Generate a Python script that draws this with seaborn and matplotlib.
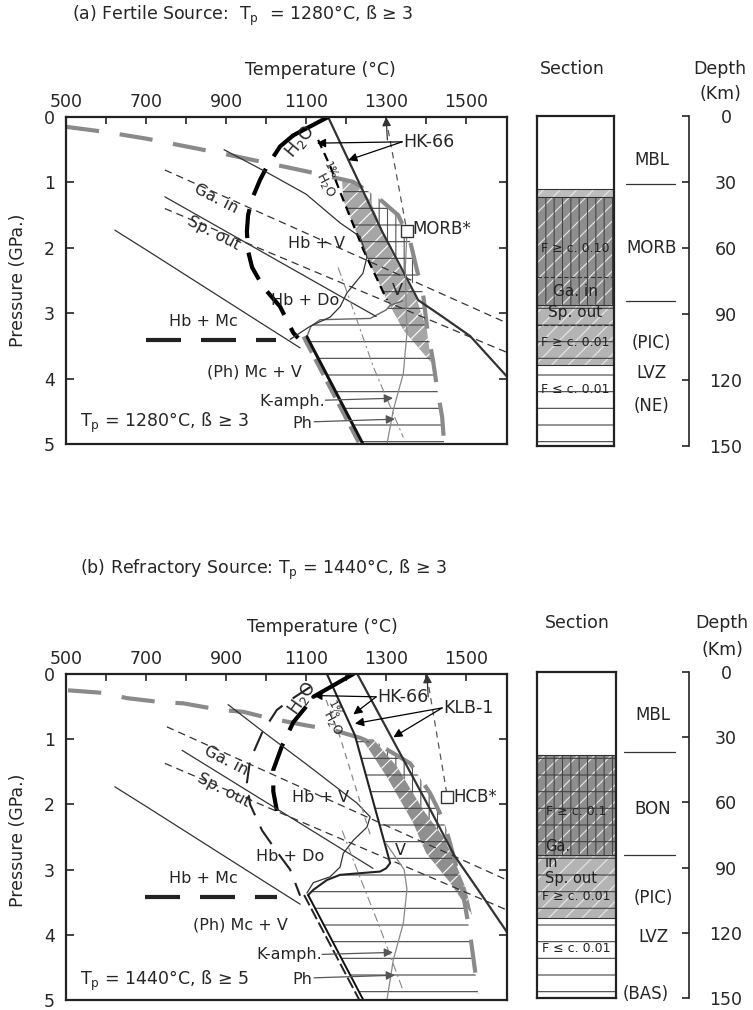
import matplotlib
matplotlib.use("Agg")
import matplotlib.pyplot as plt
import seaborn as sns

# ---------------- panel (a): fertile source ----------------
a_grey_T = [500, 600, 700, 800, 900, 1000, 1100, 1217, 1277, 1330, 1360, 1377, 1392, 1402, 1417, 1427, 1440, 1445]
a_grey_P = [0.15, 0.23, 0.33, 0.45, 0.57, 0.70, 0.83, 0.99, 1.22, 1.50, 1.90, 2.34, 2.69, 3.21, 3.72, 4.13, 4.59, 5.00]
a_dry_T = [1155, 1205, 1290, 1380, 1440, 1510, 1602]
a_dry_P = [0.0, 0.65, 1.75, 2.80, 3.05, 3.35, 3.97]
a_cap_T = [1155, 1068]
a_cap_P = [0.0, 0.28]
a_wet_T = [1068, 1035, 1002, 985, 965, 955, 952, 955, 965, 993, 1035, 1068, 1080]
a_wet_P = [0.28, 0.45, 0.76, 0.96, 1.25, 1.50, 1.75, 2.05, 2.30, 2.60, 2.90, 3.30, 3.38]
a_band_T = [1190, 1193, 1243, 1302, 1343, 1412, 1402, 1377, 1310, 1260, 1215]
a_band_P = [0.98, 1.27, 2.03, 2.80, 3.26, 3.75, 3.26, 2.80, 2.03, 1.27, 0.97]
a_wet1_T = [1130, 1160, 1193, 1243, 1302]
a_wet1_P = [0.35, 0.75, 1.27, 2.03, 2.80]
a_vert_T = [1215, 1260, 1310, 1360, 1385, 1377, 1360, 1330, 1277, 1217]
a_vert_P = [0.97, 1.27, 2.03, 2.55, 2.50, 2.34, 1.90, 1.50, 1.22, 0.99]
a_horz_T = [1190, 1193, 1243, 1302, 1310, 1300, 1260, 1135, 1112, 1102, 1242, 1445,
            1440, 1427, 1417, 1402, 1392, 1377, 1360, 1330, 1277, 1217]
a_horz_P = [0.98, 1.27, 2.03, 2.80, 2.88, 2.95, 3.08, 3.10, 3.20, 3.36, 5.00, 5.00,
            4.59, 4.13, 3.72, 3.21, 2.69, 2.34, 1.90, 1.50, 1.22, 0.99]
a_top_T = [1342, 1310, 1300, 1260, 1135, 1112, 1102]
a_top_P = [2.81, 2.88, 2.95, 3.08, 3.10, 3.20, 3.36]
a_amph_T = [895, 1000, 1100, 1185, 1235, 1252, 1242, 1202, 1185, 1160, 1110, 1085, 1060]
a_amph_P = [0.50, 0.84, 1.18, 1.62, 1.83, 2.14, 2.39, 2.69, 2.90, 3.06, 3.20, 3.30, 3.40]
a_mc_T = [622, 700, 800, 900, 1000, 1085]
a_mc_P = [1.73, 2.03, 2.42, 2.81, 3.20, 3.53]
a_gain_T = [747, 1602]
a_gain_P = [0.81, 3.15]
a_mid_T = [747, 1275]
a_mid_P = [1.22, 3.05]
a_spout_T = [747, 1602]
a_spout_P = [1.40, 3.60]
a_hbmc_T = [700, 1025]
a_hbmc_P = [3.41, 3.41]
a_kline_T = [1102, 1242]
a_kline_P = [3.36, 5.00]
a_adiab_T = [1300, 1352]
a_adiab_P = [0.03, 1.75]
a_arc_T = [1352, 1348, 1350, 1352, 1343, 1318, 1302]
a_arc_P = [1.75, 2.30, 2.90, 3.30, 3.92, 4.48, 5.00]
a_dd_T = [1180, 1218, 1268, 1343]
a_dd_P = [2.30, 2.95, 3.82, 4.90]

# ---------------- panel (b): refractory source ----------------
b_grey_T = [505, 593, 652, 735, 793, 885, 943, 1002, 1093, 1168, 1235, 1300, 1360, 1410, 1443, 1460, 1490, 1510, 1530]
b_grey_P = [0.25, 0.29, 0.37, 0.43, 0.45, 0.55, 0.58, 0.67, 0.78, 0.86, 0.98, 1.15, 1.37, 1.83, 2.24, 2.60, 3.30, 4.00, 4.90]
b_dry_T = [1228, 1300, 1400, 1470, 1540, 1602]
b_dry_P = [0.0, 0.82, 1.96, 2.78, 3.40, 3.96]
b_left_T = [1152, 1222, 1310, 1300, 1285, 1185, 1152, 1118, 1105]
b_left_P = [0.0, 0.94, 2.90, 2.98, 3.03, 3.08, 3.16, 3.31, 3.39]
b_cap_T = [1218, 1118]
b_cap_P = [0.0, 0.35]
b_wet_T = [1110, 1060, 1027, 990, 960, 952, 960, 990, 1030, 1060, 1085]
b_wet_P = [0.20, 0.40, 0.55, 0.90, 1.32, 1.67, 2.00, 2.40, 2.75, 3.00, 3.40]
b_wet2_T = [1100, 1068, 1040, 1018, 1018, 1027]
b_wet2_P = [0.50, 0.74, 1.10, 1.47, 1.80, 2.10]
b_band_T = [1240, 1302, 1367, 1400, 1460, 1515, 1500, 1470, 1443, 1393, 1327, 1268]
b_band_P = [1.00, 1.58, 2.28, 2.75, 3.20, 3.70, 3.30, 2.85, 2.50, 2.09, 1.42, 1.00]
b_vert_T = [1268, 1327, 1393, 1443, 1455, 1443, 1410, 1360, 1300]
b_vert_P = [1.00, 1.42, 2.09, 2.50, 2.45, 2.24, 1.83, 1.37, 1.15]
b_horz_T = [1222, 1310, 1300, 1285, 1185, 1152, 1118, 1105, 1243, 1535, 1530, 1510, 1490,
            1460, 1443, 1410, 1360, 1300, 1235]
b_horz_P = [0.94, 2.90, 2.98, 3.03, 3.08, 3.16, 3.31, 3.39, 5.00, 5.00, 4.90, 4.00, 3.30,
            2.60, 2.24, 1.83, 1.37, 1.15, 0.98]
b_amph_T = [905, 1000, 1100, 1227, 1260, 1252, 1218, 1193, 1185, 1160, 1118, 1102]
b_amph_P = [0.47, 0.92, 1.38, 1.98, 2.19, 2.35, 2.55, 2.75, 2.96, 3.11, 3.20, 3.36]
b_mc_T = [622, 700, 800, 900, 1000, 1085]
b_mc_P = [1.73, 2.03, 2.42, 2.81, 3.20, 3.53]
b_gain_T = [752, 1602]
b_gain_P = [0.81, 3.16]
b_mid_T = [790, 1267]
b_mid_P = [1.17, 2.98]
b_spout_T = [747, 1602]
b_spout_P = [1.37, 3.62]
b_hbmc_T = [697, 1027]
b_hbmc_P = [3.42, 3.42]
b_kline_T = [1105, 1243]
b_kline_P = [3.39, 5.00]
b_adiab_T = [1402, 1452]
b_adiab_P = [0.03, 1.85]
b_thin_T = [1150, 1185, 1262]
b_thin_P = [0.40, 0.97, 2.50]
b_arc_T = [1300, 1345, 1352, 1343, 1318, 1302]
b_arc_P = [2.60, 3.00, 3.30, 3.82, 4.38, 5.00]
b_dd_T = [1190, 1227, 1285, 1342]
b_dd_P = [2.40, 3.00, 3.90, 4.85]

# ---------------- section columns ----------------
depth_ticks = [0, 30, 60, 90, 120, 150]
sec_a_top = [0, 33, 37, 86, 113]
sec_a_bot = [33, 37, 86, 113, 150]
sec_a_kind = ['solid', 'thin', 'dense', 'moderate', 'trace']
sec_a_labels = ['MBL', 'MORB', '(PIC)', 'LVZ', '(NE)']
sec_a_label_d = [20, 60, 103, 117, 132]
sec_a_rules = [31, 84]
sec_a_inner = ['F ≥ c. 0.10', 'Ga. in', 'Sp. out', 'F ≥ c. 0.01', 'F ≤ c. 0.01']
sec_a_inner_d = [60, 80, 89.5, 103, 124.5]

sec_b_top = [0, 38, 84, 113]
sec_b_bot = [38, 84, 113, 150]
sec_b_kind = ['solid', 'grid', 'moderate', 'trace']
sec_b_labels = ['MBL', 'BON', '(PIC)', 'LVZ', '(BAS)']
sec_b_label_d = [20, 63, 104, 122, 148]
sec_b_rules = [37, 84]
sec_b_inner = ['F ≥ c. 0.1', 'Ga.', 'in', 'Sp. out', 'F ≥ c. 0.01', 'F ≤ c. 0.01']
sec_b_inner_d = [64, 80.5, 87.5, 95, 103.5, 127]

layer_style = {
    'solid': dict(face='white', diag=False, lines=[]),
    'thin': dict(face='#bdbdbd', diag=True, lines=[]),
    'dense': dict(face='#8e8e8e', diag=True, lines=['||']),
    'grid': dict(face='#8e8e8e', diag=True, lines=['||', '-']),
    'moderate': dict(face='#b4b4b4', diag=True, lines=['-']),
    'trace': dict(face='white', diag=False, lines=['-']),
}

sns.set_theme(style="ticks")
plt.rcParams['font.family'] = ['DejaVu Sans']
plt.rcParams['mathtext.default'] = 'regular'
plt.rcParams['hatch.linewidth'] = 0.8

W, H = 753, 1010
fig = plt.figure(figsize=(W / 100, H / 100), dpi=100)


def box(x0, y0, x1, y1):
    return [x0 / W, 1 - y1 / H, (x1 - x0) / W, (y1 - y0) / H]


def curve(ax, T, P, **kw):
    sns.lineplot(x=T, y=P, ax=ax, sort=False, estimator=None, legend=False, **kw)


def arrow(ax, x0, y0, x1, y1, color='black', lw=0.9):
    ax.annotate('', xy=(x1, y1), xytext=(x0, y0),
                arrowprops=dict(arrowstyle='-|>', color=color, lw=lw,
                                mutation_scale=13, shrinkA=0, shrinkB=0))


def style_main(ax):
    ax.set_xlim(500, 1602)
    ax.set_ylim(5, 0)
    ax.xaxis.tick_top()
    ax.set_xticks(range(500, 1600, 100))
    ax.set_xticklabels([str(t) if t % 200 == 100 else '' for t in range(500, 1600, 100)])
    ax.set_yticks(range(0, 6))
    ax.tick_params(axis='x', direction='in', length=5, width=1.2, labelsize=12.5, pad=4)
    ax.tick_params(axis='y', direction='in', length=6, width=1.2, labelsize=12.5,
                   left=True, right=True, pad=8)
    for s in ax.spines.values():
        s.set_linewidth(1.6)
        s.set_color('#222222')
    ax.set_facecolor('white')


def draw_section(ax, tops, bots, kinds):
    ax.set_xlim(0, 1)
    ax.set_ylim(150, 0)
    ax.set_xticks([])
    ax.set_yticks([])
    for t, b, k in zip(tops, bots, kinds):
        st = layer_style[k]
        ax.axhspan(t, b, facecolor=st['face'], edgecolor='#e8e8e8' if st['diag'] else 'none',
                   hatch='//' if st['diag'] else None, lw=0)
        for h in st['lines']:
            ax.axhspan(t, b, facecolor='none', edgecolor='#444444', hatch=h, lw=0)
        ax.axhline(b, color='#333333', lw=0.8)
    for s in ax.spines.values():
        s.set_linewidth(1.6)
        s.set_color('#222222')


def draw_depth(ax):
    ax.set_ylim(150, 0)
    ax.set_xticks([])
    ax.set_yticks(depth_ticks)
    for s in ['top', 'bottom', 'right']:
        ax.spines[s].set_visible(False)
    ax.spines['left'].set_linewidth(1.2)
    ax.spines['left'].set_color('#222222')
    ax.tick_params(axis='y', left=True, right=False, labelleft=False, labelright=True,
                   direction='out', length=5, width=1.2, labelsize=12.5, pad=21.5)
    for lbl in ax.get_yticklabels():
        lbl.set_ha('center')


def side_text(ax, labels, depths, rules, x_lbl, x_rule):
    tr = ax.get_yaxis_transform()
    for lab, d in zip(labels, depths):
        xx = x_lbl if lab != '(BAS)' else 1.37
        ax.text(xx, d, lab, transform=tr, ha='center', va='center', fontsize=12, clip_on=False)
    for r in rules:
        ax.plot(x_rule, [r, r], transform=tr, color='#333333', lw=0.9, clip_on=False)


# ================= panel (a) =================
ax = fig.add_axes(box(66, 117, 507, 444))
style_main(ax)
ax.fill(a_band_T, a_band_P, facecolor='#a6a6a6', edgecolor='white', hatch='//', lw=0, zorder=1)
ax.fill(a_vert_T, a_vert_P, facecolor='none', edgecolor='#555555', hatch='||', lw=0, zorder=1)
ax.fill(a_horz_T, a_horz_P, facecolor='none', edgecolor='#444444', hatch='-', lw=0, zorder=1)
curve(ax, a_grey_T, a_grey_P, color='#8a8a8a', lw=3, linestyle=(0, (8, 5)))
curve(ax, a_dry_T, a_dry_P, color='#333333', lw=1.6)
curve(ax, a_cap_T, a_cap_P, color='black', lw=3)
curve(ax, a_wet_T, a_wet_P, color='black', lw=3, linestyle=(0, (7, 3.5)))
curve(ax, a_wet1_T, a_wet1_P, color='black', lw=1.6, linestyle=(0, (4, 2.5)))
curve(ax, a_top_T, a_top_P, color='#666666', lw=1.0)
curve(ax, a_amph_T, a_amph_P, color='#333333', lw=0.9)
curve(ax, a_mc_T, a_mc_P, color='#333333', lw=0.9)
curve(ax, a_gain_T, a_gain_P, color='#333333', lw=0.9, linestyle=(0, (6, 4)))
curve(ax, a_mid_T, a_mid_P, color='#333333', lw=0.9)
curve(ax, a_spout_T, a_spout_P, color='#333333', lw=0.9, linestyle=(0, (6, 4)))
curve(ax, a_hbmc_T, a_hbmc_P, color='#222222', lw=3, linestyle=(0, (8.4, 4.8)))
curve(ax, [t - 9 for t in a_kline_T], a_kline_P, color='#888888', lw=2.6, linestyle=(0, (5, 2)))
curve(ax, a_kline_T, a_kline_P, color='#111111', lw=2.2)
curve(ax, a_adiab_T, a_adiab_P, color='#555555', lw=0.9, linestyle=(0, (5, 4)))
curve(ax, a_arc_T, a_arc_P, color='#888888', lw=0.9)
curve(ax, a_dd_T, a_dd_P, color='#888888', lw=0.8, linestyle=(0, (8, 3, 2, 3)))
ax.plot([1352], [1.75], marker='s', ms=8, mfc='white', mec='#333333', mew=1.0, zorder=5)
arrow(ax, 1303, 0.35, 1300, 0.0, color='#333333')
arrow(ax, 1340, 0.38, 1127, 0.40)
arrow(ax, 1340, 0.38, 1205, 0.66)
arrow(ax, 1148, 4.33, 1317, 4.30, color='#555555')
arrow(ax, 1120, 4.66, 1322, 4.62, color='#555555')
ax.text(1343, 0.38, 'HK-66', fontsize=12.5, va='center')
ax.text(1365, 1.72, 'MORB*', fontsize=12, va='center')
ax.text(1085, 0.38, 'H$_2$O', fontsize=12.5, rotation=50, ha='center', va='center')
ax.text(1160, 0.82, '1%', fontsize=8, rotation=-62, ha='center', va='center')
ax.text(1148, 1.05, 'H$_2$O', fontsize=9, rotation=-62, ha='center', va='center')
ax.text(875, 1.25, 'Ga. in', fontsize=11.5, rotation=-27, ha='center', va='center')
ax.text(868, 1.78, 'Sp. out', fontsize=11.5, rotation=-27, ha='center', va='center')
ax.text(1127, 1.93, 'Hb + V', fontsize=11.5, ha='center', va='center')
ax.text(1097, 2.8, 'Hb + Do', fontsize=11.5, ha='center', va='center')
ax.text(843, 3.13, 'Hb + Mc', fontsize=11.5, ha='center', va='center')
ax.text(972, 3.9, '(Ph) Mc + V', fontsize=11.5, ha='center', va='center')
ax.text(1327, 2.65, 'V', fontsize=11.5, ha='center', va='center')
ax.text(1148, 4.35, 'K-amph.', fontsize=11.5, ha='right', va='center')
ax.text(1115, 4.68, 'Ph', fontsize=11.5, ha='right', va='center')
ax.text(535, 4.68, 'T$_p$ = 1280°C, ß ≥ 3', fontsize=12.5, va='center')

sec = fig.add_axes(box(537, 116, 614, 446))
draw_section(sec, sec_a_top, sec_a_bot, sec_a_kind)
sec.axhline(73, color='#333333', lw=0.8, ls=(0, (4, 2)))
sec.axhline(95, color='#333333', lw=0.8, ls=(0, (4, 2)))
for lab, d in zip(sec_a_inner, sec_a_inner_d):
    fs = 9 if lab.startswith('F') else 11
    sec.text(0.5, d, lab, fontsize=fs, ha='center', va='center', color='#222222')
side_text(sec, sec_a_labels, sec_a_label_d, sec_a_rules, 1.49, [1.16, 1.79])
dep = fig.add_axes(box(689, 116, 689.1, 446))
draw_depth(dep)

fig.text(72 / W, 1 - 16 / H, '(a) Fertile Source:  T$_p$  = 1280°C, ß ≥ 3', fontsize=12.5, va='center')
fig.text(320 / W, 1 - 70 / H, 'Temperature (°C)', fontsize=12.5, ha='center', va='center')
fig.text(572 / W, 1 - 69 / H, 'Section', fontsize=12.5, ha='center', va='center')
fig.text(720 / W, 1 - 69 / H, 'Depth', fontsize=12.5, ha='center', va='center')
fig.text(720 / W, 1 - 94 / H, '(Km)', fontsize=12.5, ha='center', va='center')
fig.text(18 / W, 1 - 280 / H, 'Pressure (GPa.)', fontsize=12.5, ha='center', va='center', rotation=90)

# ================= panel (b) =================
ax = fig.add_axes(box(66, 674, 507, 1000))
style_main(ax)
ax.fill(b_band_T, b_band_P, facecolor='#8f8f8f', edgecolor='white', hatch='//', lw=0, zorder=1)
ax.fill(b_vert_T, b_vert_P, facecolor='none', edgecolor='#555555', hatch='||', lw=0, zorder=1)
ax.fill(b_horz_T, b_horz_P, facecolor='none', edgecolor='#444444', hatch='-', lw=0, zorder=1)
curve(ax, b_grey_T, b_grey_P, color='#8a8a8a', lw=3, linestyle=(0, (8, 5)))
curve(ax, b_dry_T, b_dry_P, color='#333333', lw=1.6)
curve(ax, b_left_T, b_left_P, color='#222222', lw=1.5)
curve(ax, b_cap_T, b_cap_P, color='black', lw=3)
curve(ax, b_wet_T, b_wet_P, color='#222222', lw=1.5, linestyle=(0, (10, 6)))
curve(ax, b_wet2_T, b_wet2_P, color='black', lw=3, linestyle=(0, (7, 3.5)))
curve(ax, b_amph_T, b_amph_P, color='#333333', lw=0.9)
curve(ax, b_mc_T, b_mc_P, color='#333333', lw=0.9)
curve(ax, b_gain_T, b_gain_P, color='#333333', lw=0.9, linestyle=(0, (6, 4)))
curve(ax, b_mid_T, b_mid_P, color='#333333', lw=0.9)
curve(ax, b_spout_T, b_spout_P, color='#333333', lw=0.9, linestyle=(0, (6, 4)))
curve(ax, b_hbmc_T, b_hbmc_P, color='#222222', lw=3, linestyle=(0, (8.4, 4.8)))
curve(ax, [t - 10 for t in b_kline_T], b_kline_P, color='#222222', lw=1.4, linestyle=(0, (6, 2)))
curve(ax, b_kline_T, b_kline_P, color='#111111', lw=1.4)
curve(ax, b_adiab_T, b_adiab_P, color='#555555', lw=0.9, linestyle=(0, (5, 4)))
curve(ax, b_thin_T, b_thin_P, color='#888888', lw=0.9, linestyle=(0, (5, 4)))
curve(ax, b_arc_T, b_arc_P, color='#888888', lw=0.9)
curve(ax, b_dd_T, b_dd_P, color='#888888', lw=0.8, linestyle=(0, (8, 3, 2, 3)))
ax.plot([1452], [1.88], marker='s', ms=8, mfc='white', mec='#333333', mew=1.0, zorder=5)
arrow(ax, 1405, 0.35, 1402, 0.0, color='#333333')
arrow(ax, 1275, 0.35, 1118, 0.33)
arrow(ax, 1275, 0.35, 1218, 0.62)
arrow(ax, 1440, 0.52, 1222, 0.76)
arrow(ax, 1440, 0.52, 1318, 0.97)
arrow(ax, 1140, 4.30, 1317, 4.27, color='#555555')
arrow(ax, 1120, 4.66, 1322, 4.62, color='#555555')
ax.text(1277, 0.35, 'HK-66', fontsize=12.5, va='center')
ax.text(1443, 0.52, 'KLB-1', fontsize=12.5, va='center')
ax.text(1468, 1.88, 'HCB*', fontsize=12, va='center')
ax.text(1090, 0.38, 'H$_2$O', fontsize=12.5, rotation=55, ha='center', va='center')
ax.text(1172, 0.55, '1%', fontsize=8, rotation=-62, ha='center', va='center')
ax.text(1165, 0.76, 'H$_2$O', fontsize=9, rotation=-62, ha='center', va='center')
ax.text(900, 1.33, 'Ga. in', fontsize=11.5, rotation=-27, ha='center', va='center')
ax.text(893, 1.78, 'Sp. out', fontsize=11.5, rotation=-27, ha='center', va='center')
ax.text(1135, 1.9, 'Hb + V', fontsize=11.5, ha='center', va='center')
ax.text(1060, 2.8, 'Hb + Do', fontsize=11.5, ha='center', va='center')
ax.text(843, 3.13, 'Hb + Mc', fontsize=11.5, ha='center', va='center')
ax.text(935, 3.85, '(Ph) Mc + V', fontsize=11.5, ha='center', va='center')
ax.text(1335, 2.7, 'V', fontsize=11.5, ha='center', va='center')
ax.text(1140, 4.3, 'K-amph.', fontsize=11.5, ha='right', va='center')
ax.text(1115, 4.69, 'Ph', fontsize=11.5, ha='right', va='center')
ax.text(535, 4.7, 'T$_p$ = 1440°C, ß ≥ 5', fontsize=12.5, va='center')

sec = fig.add_axes(box(537, 672, 616, 998))
draw_section(sec, sec_b_top, sec_b_bot, sec_b_kind)
for lab, d in zip(sec_b_inner, sec_b_inner_d):
    if lab.startswith('F'):
        sec.text(0.5, d, lab, fontsize=9, ha='center', va='center', color='#222222')
    else:
        sec.text(0.1, d, lab, fontsize=10.5, ha='left', va='center', color='#222222')
side_text(sec, sec_b_labels, sec_b_label_d, sec_b_rules, 1.47, [1.10, 1.75])
dep = fig.add_axes(box(689, 672, 689.1, 998))
draw_depth(dep)

fig.text(80 / W, 1 - 570 / H, '(b) Refractory Source: T$_p$ = 1440°C, ß ≥ 3', fontsize=12.5, va='center')
fig.text(322 / W, 1 - 627 / H, 'Temperature (°C)', fontsize=12.5, ha='center', va='center')
fig.text(577 / W, 1 - 623 / H, 'Section', fontsize=12.5, ha='center', va='center')
fig.text(722 / W, 1 - 623 / H, 'Depth', fontsize=12.5, ha='center', va='center')
fig.text(722 / W, 1 - 650 / H, '(Km)', fontsize=12.5, ha='center', va='center')
fig.text(18 / W, 1 - 840 / H, 'Pressure (GPa.)', fontsize=12.5, ha='center', va='center', rotation=90)

fig.savefig('out.png', dpi=100, facecolor='white')
